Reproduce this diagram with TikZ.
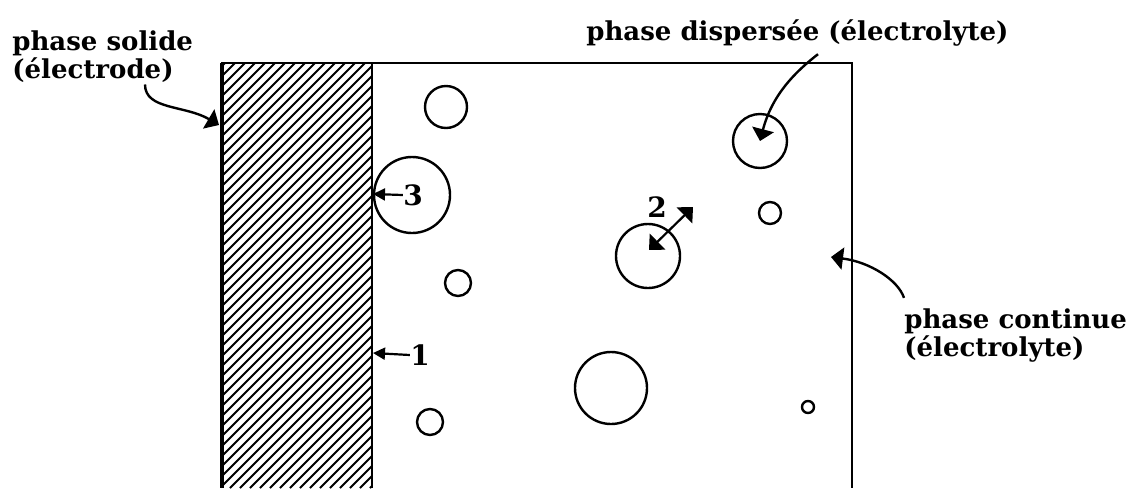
\documentclass[tikz,border=0pt]{standalone}
\usepackage{fontspec}
\setmainfont{DejaVu Serif}
\usetikzlibrary{arrows.meta,positioning,calc}

\begin{document}
\begin{tikzpicture}[x=0.5pt,y=-0.5pt,
  lbl/.style={font=\fontsize{13}{14}\selectfont\bfseries,inner sep=0pt,align=left},
  num/.style={font=\fontsize{14}{14}\selectfont\bfseries,inner sep=0pt},
  bubble/.style={draw,circle,line width=1.2pt,inner sep=0pt},
  hatch/.style={line width=1pt},
  bigarr/.style={line width=1.2pt,-{Triangle[length=6pt,width=11pt]}},
  smallarr/.style={line width=1.1pt,-{Triangle[length=6pt,width=6pt]}}]
  \useasboundingbox (0,0) rectangle (1129,488);
  % electrode (hatched)
  \begin{scope}
    \clip (222,63) rectangle (372,488);
    \foreach \i in {-240,-230,...,380} \draw[hatch] (\i,488) -- ++(460,-460);
  \end{scope}
  \draw[line width=1pt] (222,488) -- (222,63) -- (852,63) -- (852,488);
  \draw[line width=2.2pt] (222,63) -- (222,488);
  \draw[line width=1pt] (372,63) -- (372,488);
  % droplets
  \node[bubble,minimum size=21pt] (d1) at (446,107) {};
  \node[bubble,minimum size=38pt] (d2) at (412,195) {};
  \node[bubble,minimum size=13pt] (d3) at (458,283) {};
  \node[bubble,minimum size=32pt] (d4) at (648,256) {};
  \node[bubble,minimum size=27pt] (d5) at (760,141) {};
  \node[bubble,minimum size=11pt] (d6) at (770,213) {};
  \node[bubble,minimum size=36pt] (d7) at (611,388) {};
  \node[bubble,minimum size=13pt] (d8) at (430,422) {};
  \node[bubble,minimum size=6pt] (d9) at (808,407) {};
  % labels
  \node[lbl,anchor=base west] (solide) at (12,78) {phase solide\\(électrode)};
  \node[lbl,anchor=base west] (disp) at (586,40) {phase dispersée (électrolyte)};
  \node[lbl,anchor=base west] (cont) at (904,356) {phase continue\\(électrolyte)};
  \node[num] (n3) at (413,195) {3};
  \node[num] (n1) at (420,355) {1};
  \node[num] (n2) at (657,207) {2};
  \coordinate (e3) at (373,194);
  \coordinate (e1) at (373,353);
  \coordinate (elec) at (219,125);
  \coordinate (cont0) at (831,257);
  \coordinate (a2) at (693,207);
  % connectors
  \draw[bigarr] (solide.south west -| 145,0) ++(0,2) .. controls (145,110) and (185,105) .. (elec);
  \draw[bigarr] (disp.south west -| 818,0) ++(0,8) .. controls (795,72) and (772,95) .. (d5.center);
  \draw[bigarr] (cont.north west) ++(0,-10) .. controls (898,280) and (870,262) .. (cont0);
  \draw[smallarr] (n3.west) -- (e3);
  \draw[smallarr] (n1.west) -- (e1);
  \draw[line width=1.1pt,{Triangle[length=6pt,width=11pt]}-{Triangle[length=6pt,width=11pt]}] (649,250) -- (a2);
\end{tikzpicture}
\end{document}
